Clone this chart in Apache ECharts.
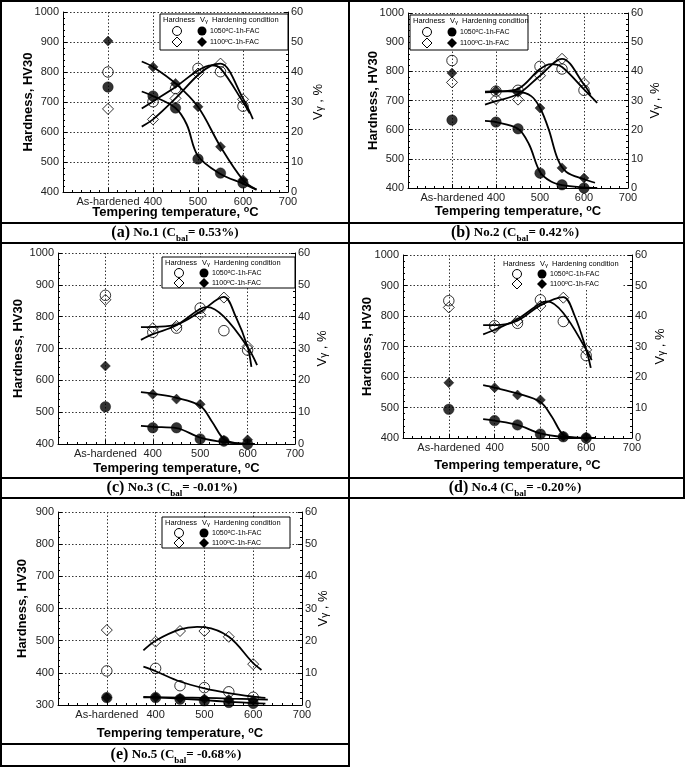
<!DOCTYPE html>
<html><head><meta charset="utf-8">
<script src="https://cdn.jsdelivr.net/npm/echarts/dist/echarts.min.js"></script>
<style>html,body{margin:0;padding:0;background:#fff}#c{width:685px;height:768px}</style>
</head><body><div id="c"></div>
<script>
// ---------- tick labels / sample positions ----------
const pointT = [300, 400, 450, 500, 550, 600];          // 300 = "As-hardened" column
const xTickValues = [200, 300, 400, 500, 600, 700];
const xTickLabels = ['', 'As-hardened', '400', '500', '600', '700'];

// ---------- (a) No.1 ----------
const aHv1050 = [800, 701, 745, 812, 801, 686];
const aHv1100 = [677, 642, 712, 795, 828, 709];
const aV1050 = [35, 32, 28, 11, 6.3, 3];
const aV1100 = [50.3, 41.7, 36.2, 28.4, 15.1, 4.1];
const aFitHv1050 = [[375,678],[400,702],[450,750],[500,805],[530,822],[550,812],[600,700],[615,662]];
const aFitHv1100 = [[375,618],[400,642],[450,712],[500,790],[530,822],[550,828],[600,712],[622,643]];
const aFitV1050 = [[375,33.5],[400,32],[450,28],[475,22.5],[500,12],[550,6],[600,2.8],[630,0.8]];
const aFitV1100 = [[375,43.5],[400,41.7],[450,36.2],[500,28.4],[550,15.1],[600,4],[630,0.8]];

// ---------- (b) No.2 ----------
const bHv1050 = [837, 732, 735, 817, 808, 735];
const bHv1100 = [762, 705, 703, 785, 843, 760];
const bV1050 = [23.3, 22.6, 20.3, 5.1, 1.1, 0];
const bV1100 = [39.4, 33.4, 32.8, 27.4, 6.9, 3.4];
const bFitHv1050 = [[375,728],[400,730],[450,740],[500,808],[525,825],[550,815],[600,738],[630,692]];
const bFitHv1100 = [[375,686],[400,698],[450,722],[500,785],[550,843],[600,755],[615,720]];
const bFitV1050 = [[375,23],[400,22.6],[450,20.3],[475,15],[500,5.5],[525,2.2],[550,1],[600,0.2],[630,0]];
const bFitV1100 = [[375,33],[400,33.2],[450,33],[480,31.5],[500,27.5],[520,20],[540,10],[560,5.5],[600,3],[625,1.8]];

// ---------- (c) No.3 ----------
const cHv1050 = [867, 751, 764, 827, 756, 695];
const cHv1100 = [853, 764, 771, 806, 860, 706];
const cV1050 = [11.7, 5.1, 5.1, 1.6, 0.9, 0];
const cV1100 = [24.5, 15.6, 14.1, 12.5, 1.2, 1.3];
const cFitHv1050 = [[375,727],[400,745],[450,773],[500,825],[515,830],[550,800],[600,705],[620,648]];
const cFitHv1100 = [[375,767],[400,768],[450,775],[500,815],[550,862],[575,800],[600,705],[608,642]];
const cFitV1050 = [[375,5.7],[400,5.4],[450,5],[500,2],[550,0.6],[600,0.1],[615,0]];
const cFitV1100 = [[375,16.3],[400,15.8],[450,14.5],[500,12],[525,7],[550,1.5],[575,0.3],[615,0]];

// ---------- (d) No.4 ----------
const dHv1050 = [850, 768, 776, 853, 782, 670];
const dHv1100 = [828, 760, 784, 833, 860, 689];
const dV1050 = [9.4, 5.7, 4.3, 1.3, 0.4, 0];
const dV1100 = [18.1, 16.5, 14.1, 12.5, 0.6, 0.3];
const dFitHv1050 = [[375,740],[400,755],[450,790],[500,842],[515,848],[550,810],[600,690],[612,655]];
const dFitHv1100 = [[375,770],[400,770],[450,785],[500,835],[550,862],[575,800],[600,690],[610,630]];
const dFitV1050 = [[375,6.2],[400,5.7],[450,4.3],[500,1.5],[550,0.3],[600,0],[620,0]];
const dFitV1100 = [[375,17.3],[400,16.5],[450,14.6],[500,11.8],[525,7],[550,1],[575,0.2],[620,0]];

// ---------- (e) No.5 ----------
const eHv1050 = [406, 414, 360, 354, 341, 324];
const eHv1100 = [533, 497, 530, 530, 512, 427];
const eV1050 = [2.3, 2.3, 1.8, 1.3, 0.8, 0.5];
const eV1100 = [2.3, 2.4, 2.1, 1.9, 1.7, 1.5];
const eFitHv1050 = [[375,419],[400,405],[450,373],[500,352],[550,337],[600,326],[625,322]];
const eFitHv1100 = [[375,470],[400,500],[450,535],[485,543],[500,542],[550,512],[600,430],[617,409]];
const eFitV1050 = [[375,2.5],[450,2.0],[500,1.5],[550,1.0],[600,0.6],[625,0.4]];
const eFitV1100 = [[375,2.4],[450,2.3],[500,2.2],[550,2.0],[600,1.8],[630,1.7]];

// ---------- captions ----------
const captionLabels = ['(a)', '(b)', '(c)', '(d)', '(e)'];
const captionNos = ['No.1', 'No.2', 'No.3', 'No.4', 'No.5'];
const captionVals = ['0.53%', '0.42%', '-0.01%', '-0.20%', '-0.68%'];

// ---------- layout ----------
const panels = [
  {grid:{left:63,top:12,width:225,height:180}, hvMin:400, hvMax:1000, gx:13, gl:28, gr:23,
   hv1050:aHv1050, hv1100:aHv1100, v1050:aV1050, v1100:aV1100,
   fH1:aFitHv1050, fH2:aFitHv1100, fV1:aFitV1050, fV2:aFitV1100,
   leg:{x:160,y:14,w:128,h:36,border:true}, cap:{x:175,y:233}},
  {grid:{left:408,top:13,width:220,height:175}, hvMin:400, hvMax:1000, gx:16, gl:28, gr:20,
   hv1050:bHv1050, hv1100:bHv1100, v1050:bV1050, v1100:bV1100,
   fH1:bFitHv1050, fH2:bFitHv1100, fV1:bFitV1050, fV2:bFitV1100,
   leg:{x:410,y:15,w:118,h:35,border:true}, cap:{x:515,y:233}},
  {grid:{left:58,top:253,width:237,height:191}, hvMin:400, hvMax:1000, gx:17, gl:33, gr:20,
   hv1050:cHv1050, hv1100:cHv1100, v1050:cV1050, v1100:cV1100,
   fH1:cFitHv1050, fH2:cFitHv1100, fV1:cFitV1050, fV2:cFitV1100,
   leg:{x:162,y:257,w:133,h:31,border:true}, cap:{x:172,y:488}},
  {grid:{left:403,top:255,width:229,height:183}, hvMin:400, hvMax:1000, gx:20, gl:29, gr:21,
   hv1050:dHv1050, hv1100:dHv1100, v1050:dV1050, v1100:dV1100,
   fH1:dFitHv1050, fH2:dFitHv1100, fV1:dFitV1050, fV2:dFitV1100,
   leg:{x:500,y:258,w:122,h:31,border:false}, cap:{x:515,y:488}},
  {grid:{left:58,top:512,width:244,height:193}, hvMin:300, hvMax:900, gx:21, gl:29, gr:14,
   hv1050:eHv1050, hv1100:eHv1100, v1050:eV1050, v1100:eV1100,
   fH1:eFitHv1050, fH2:eFitHv1100, fV1:eFitV1050, fV2:eFitV1100,
   leg:{x:162,y:517,w:128,h:31,border:true}, cap:{x:176,y:755}}
];

const FONT = '"Liberation Sans", Arial, sans-serif';
const SERIF = '"Liberation Serif", "Times New Roman", serif';
const dotted = {type:[1.5,2], color:'#333', width:1};

const option = {animation:false, backgroundColor:'#fff', grid:[], xAxis:[], yAxis:[], series:[], graphic:[]};

function pts(arr){ return pointT.map((t,k)=>[t, arr[k]]).filter(p=>p[1]!=null); }

panels.forEach((p,i)=>{
  option.grid.push(Object.assign({containLabel:false}, p.grid));
  option.xAxis.push({
    type:'value', gridIndex:i, min:200, max:700, interval:100,
    axisLine:{lineStyle:{color:'#000',width:1}},
    axisTick:{inside:true,length:4,lineStyle:{color:'#000'}},
    minorTick:{show:true,splitNumber:5,length:2,lineStyle:{color:'#000'}},
    splitLine:{show:true,lineStyle:dotted},
    axisLabel:{margin:4,color:'#222',fontSize:11,fontFamily:FONT,
      formatter:v=>{const k=xTickValues.indexOf(v);return k>=0?xTickLabels[k]:'';}},
    name:'Tempering temperature, {sup|o}C', nameLocation:'middle', nameGap:p.gx, nameMoveOverlap:false,
    nameTextStyle:{fontFamily:FONT,fontWeight:'bold',fontSize:13,color:'#000',lineHeight:14,
      rich:{sup:{fontFamily:FONT,fontWeight:'bold',fontSize:9,color:'#000',verticalAlign:'top',lineHeight:8}}}
  });
  option.yAxis.push({
    type:'value', gridIndex:i, min:p.hvMin, max:p.hvMax, interval:100, position:'left',
    axisLine:{show:true,lineStyle:{color:'#000',width:1}},
    axisTick:{inside:true,length:4,lineStyle:{color:'#000'}},
    minorTick:{show:true,splitNumber:5,length:2,lineStyle:{color:'#000'}},
    splitLine:{show:true,lineStyle:dotted},
    axisLabel:{margin:4,color:'#222',fontSize:11,fontFamily:FONT,formatter:v=>String(v)},
    name:'Hardness, HV30', nameLocation:'middle', nameGap:p.gl, nameRotate:90, nameMoveOverlap:false,
    nameTextStyle:{fontFamily:FONT,fontWeight:'bold',fontSize:13,color:'#000',lineHeight:14}
  });
  option.yAxis.push({
    type:'value', gridIndex:i, min:0, max:60, interval:10, position:'right',
    axisLine:{show:true,lineStyle:{color:'#000',width:1}},
    axisTick:{inside:true,length:4,lineStyle:{color:'#000'}},
    minorTick:{show:true,splitNumber:5,length:2,lineStyle:{color:'#000'}},
    splitLine:{show:false},
    axisLabel:{margin:3,color:'#222',fontSize:11,fontFamily:FONT,formatter:v=>String(v)},
    name:'V{sub|γ} , %', nameLocation:'middle', nameGap:p.gr, nameRotate:90, nameMoveOverlap:false,
    nameTextStyle:{fontFamily:FONT,fontSize:13,color:'#000',lineHeight:14,
      rich:{sub:{fontFamily:FONT,fontSize:10,color:'#000',verticalAlign:'bottom',lineHeight:8}}}
  });
  const yL = 2*i, yR = 2*i+1;
  const lineS = (data,yi)=>({type:'line',xAxisIndex:i,yAxisIndex:yi,data:data,smooth:0.35,
    showSymbol:false,symbol:'none',lineStyle:{color:'#000',width:1.8},z:2,silent:true});
  option.series.push(lineS(p.fH1,yL), lineS(p.fH2,yL), lineS(p.fV1,yR), lineS(p.fV2,yR));
  const scat = (arr,yi,sym,filled,size)=>({type:'scatter',xAxisIndex:i,yAxisIndex:yi,data:pts(arr),
    symbol:sym,symbolSize:size,z:4,
    itemStyle:filled?{color:'#000',borderColor:'#000',borderWidth:0.5}
                    :{color:'rgba(255,255,255,0)',borderColor:'#000',borderWidth:1}});
  option.series.push(scat(p.v1100,yR,'diamond',true,10), scat(p.v1050,yR,'circle',true,10.5),
                     scat(p.hv1100,yL,'diamond',false,11), scat(p.hv1050,yL,'circle',false,10.5));

  // legend box
  const L = p.leg;
  option.graphic.push({type:'rect',shape:{x:L.x,y:L.y,width:L.w,height:L.h},
    style:{fill:'#fff',stroke:L.border?'#000':'#fff',lineWidth:1},z:50});
  const t7 = (x,y,txt,size)=>({type:'text',x:x,y:y,z:52,style:{text:txt,font:(size||7.5)+'px '+FONT,fill:'#000',
      verticalAlign:'middle',align:'left',
      rich:{sup:{fontSize:5,verticalAlign:'top',lineHeight:8,fontFamily:FONT},
            sub:{fontSize:6,verticalAlign:'bottom',lineHeight:8,fontFamily:FONT}}}});
  const r0 = L.y+6, r1 = L.y+(L.h>33?17:16), r2 = L.y+(L.h>33?28:26);
  option.graphic.push(t7(L.x+3,r0,'Hardness'), t7(L.x+40,r0,'V{sub|γ}'), t7(L.x+52,r0,'Hardening condition'));
  option.graphic.push({type:'circle',z:52,shape:{cx:L.x+17,cy:r1,r:4.5},style:{fill:'#fff',stroke:'#000',lineWidth:1}});
  option.graphic.push({type:'circle',z:52,shape:{cx:L.x+42,cy:r1,r:4.5},style:{fill:'#000'}});
  option.graphic.push({type:'polygon',z:52,shape:{points:[[L.x+17,r2-5],[L.x+22,r2],[L.x+17,r2+5],[L.x+12,r2]]},style:{fill:'#fff',stroke:'#000',lineWidth:1}});
  option.graphic.push({type:'polygon',z:52,shape:{points:[[L.x+42,r2-5],[L.x+47,r2],[L.x+42,r2+5],[L.x+37,r2]]},style:{fill:'#000'}});
  option.graphic.push(t7(L.x+50,r1,'1050{sup|o}C-1h-FAC',7), t7(L.x+50,r2,'1100{sup|o}C-1h-FAC',7));

  // caption
  option.graphic.push({type:'text',x:p.cap.x,y:p.cap.y,z:60,style:{
    text:'{p|'+captionLabels[i]+'} {t|'+captionNos[i]+' (C}{s|bal}{t|= '+captionVals[i]+')}',
    align:'center',verticalAlign:'middle',
    rich:{p:{fontFamily:SERIF,fontWeight:'bold',fontSize:16,lineHeight:20,color:'#000'},
          t:{fontFamily:SERIF,fontWeight:'bold',fontSize:13,lineHeight:20,color:'#000'},
          s:{fontFamily:SERIF,fontWeight:'bold',fontSize:9,lineHeight:11,verticalAlign:'bottom',color:'#000'}}}});
});

// table borders
const B = (x1,y1,x2,y2)=>({type:'line',z:70,shape:{x1:x1,y1:y1,x2:x2,y2:y2},style:{stroke:'#000',lineWidth:2}});
option.graphic.push(
  B(0,1,685,1), B(0,223,685,223), B(0,243,685,243), B(0,478,685,478), B(0,498,685,498),
  B(0,744,349,744), B(0,766,349,766),
  B(1,0,1,767), B(349,0,349,767), B(684,0,684,499)
);

const chart = echarts.init(document.getElementById('c'), null, {renderer:'canvas'});
chart.setOption(option);
</script></body></html>
